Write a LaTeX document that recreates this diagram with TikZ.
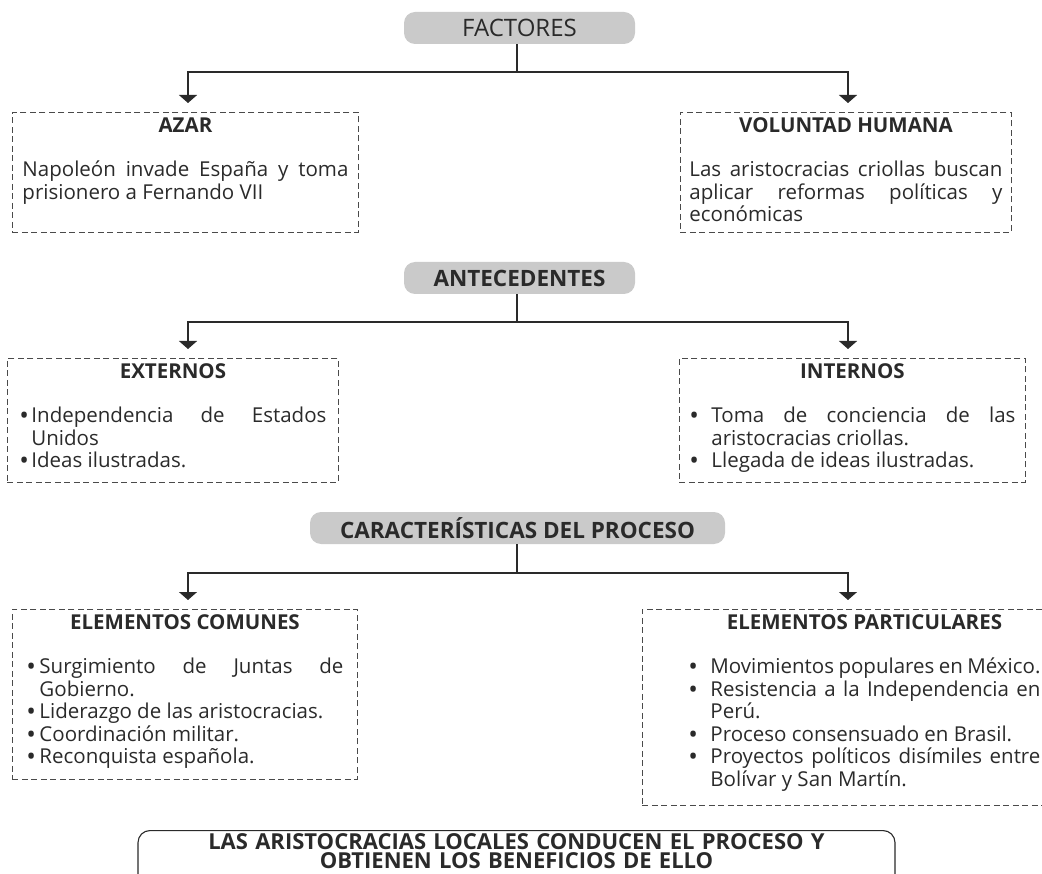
\documentclass[tikz,border=0pt]{standalone}
\usepackage{fontspec}
\setmainfont{Open Sans}
\usetikzlibrary{arrows.meta,positioning}
\definecolor{capsule}{HTML}{CACACA}
\definecolor{ink}{HTML}{2A2A2A}
% bullet with hanging indent
\newcommand{\bitem}[1][13pt]{\par\noindent\hangindent=#1\hangafter=1\makebox[#1][l]{\raisebox{-1.6pt}[0pt][0pt]{\scalebox{1.25}{\textbullet}}}}
\newcommand{\boxtitle}[1]{{\centering\bfseries #1\par}\vspace{22pt}}
\tikzset{
  head/.style={fill=capsule, rounded corners=11pt, minimum height=32pt, text=ink,
    font=\fontsize{22.5}{24}\selectfont\bfseries},
  frame/.style={draw=ink!85, dash pattern=on 6pt off 3.5pt, line width=0.9pt,
    anchor=north west, inner xsep=10pt, inner ysep=5pt, text height=15pt,
    align=justify, text=ink, font=\fontsize{20.5}{22.5}\selectfont},
  final/.style={draw=ink, rounded corners=12pt, line width=1.1pt, anchor=north,
    minimum width=757pt, text width=735pt, inner ysep=4pt, text height=15pt, text depth=40pt,
    align=center, text=ink, font=\fontsize{22}{19}\selectfont\bfseries},
  conn/.style={draw=ink, line width=1.1pt},
  arr/.style={conn, -{Triangle[width=18pt,length=8pt]}, shorten >=9pt},
}
\begin{document}
\begin{tikzpicture}[x=1pt, y=-1pt]
\useasboundingbox (0,0) rectangle (1042,874);
\coordinate (L) at (188,0);
\coordinate (R) at (848,0);

% factores
\node[head, minimum width=231pt, font=\fontsize{24}{24}\selectfont] (factores) at (519.5,28) {FACTORES};
\node[frame, text width=326pt, text depth=95pt] (azar) at (12,112)
  {\boxtitle{AZAR}Napoleón invade España y toma\linebreak prisionero a Fernando VII\par};
\node[frame, inner xsep=9pt, text width=313pt, text depth=95pt] (voluntad) at (680,112)
  {\boxtitle{VOLUNTAD HUMANA}Las aristocracias criollas buscan\linebreak aplicar reformas políticas y\linebreak económicas\par};
\coordinate (fbar) at (517,72);
\draw[conn] (factores.south -| fbar) -- (fbar);
\draw[arr] (fbar) -| (azar.north -| L);
\draw[arr] (fbar) -| (voluntad.north -| R);

% antecedentes
\node[head, minimum width=231pt] (antecedentes) at (519.5,278) {ANTECEDENTES};
\node[frame, inner xsep=12pt, text width=307pt, text depth=99pt] (externos) at (7,358)
  {\boxtitle{EXTERNOS}\bitem[12pt]Independencia de Estados\linebreak Unidos\bitem[12pt]Ideas ilustradas.\par};
\node[frame, text width=326pt, text depth=99pt] (internos) at (679,358)
  {\boxtitle{INTERNOS}\bitem[22pt]Toma de conciencia de las\linebreak aristocracias criollas.\bitem[22pt]Llegada de ideas ilustradas.\par};
\coordinate (abar) at (517,322);
\draw[conn] (antecedentes.south -| abar) -- (abar);
\draw[arr] (abar) -| (externos.north -| L);
\draw[arr] (abar) -| (internos.north -| R);

% caracteristicas
\node[head, minimum width=415pt] (proceso) at (517.5,528) {CARACTERÍSTICAS DEL PROCESO};
\node[frame, inner xsep=14pt, text width=317pt, text depth=145pt] (comunes) at (12,609)
  {\boxtitle{ELEMENTOS COMUNES}\bitem Surgimiento de Juntas de\linebreak Gobierno.\bitem Liderazgo de las aristocracias.\bitem Coordinación militar.\bitem Reconquista española.\par};
\node[frame, inner xsep=46pt, text width=352pt, text depth=171pt] (particulares) at (642,609)
  {\boxtitle{ELEMENTOS PARTICULARES}\bitem[22pt]Movimientos populares en México.\bitem[22pt]Resistencia a la Independencia en\linebreak Perú.\bitem[22pt]Proceso consensuado en Brasil.\bitem[22pt]Proyectos políticos disímiles entre\linebreak Bolívar y San Martín.\par};
\coordinate (cbar) at (517,573);
\draw[conn] (proceso.south -| cbar) -- (cbar);
\draw[arr] (cbar) -| (comunes.north -| L);
\draw[arr] (cbar) -| (particulares.north -| R);

% conclusion
\node[final] (conclusion) at (516.5,830)
  {LAS ARISTOCRACIAS LOCALES CONDUCEN EL PROCESO Y\\OBTIENEN LOS BENEFICIOS DE ELLO};
\end{tikzpicture}
\end{document}
